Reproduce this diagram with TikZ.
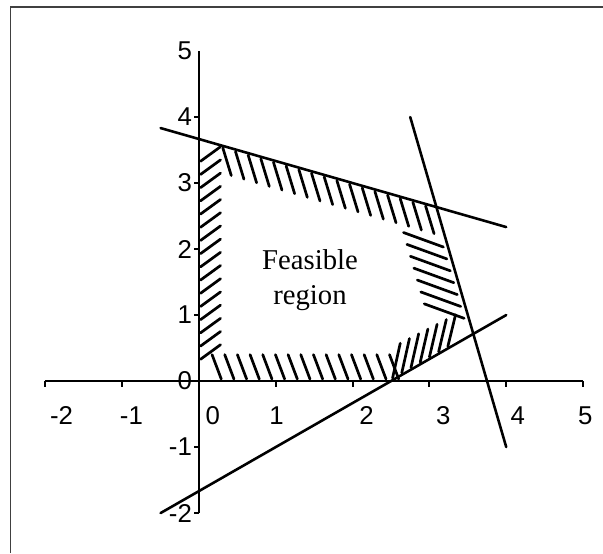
\documentclass[tikz,border=0pt]{standalone}
\usepackage{fontspec}
\setmainfont{Liberation Serif}
\setsansfont{Liberation Sans}
\usetikzlibrary{positioning}

\begin{document}
\begin{tikzpicture}[x=2.304cm, y=1.98cm,
  axisline/.style={line width=1.6pt},
  bound/.style={line width=2.2pt, line cap=round},
  hatch/.style={line width=2.3pt, line cap=round},
  ticklbl/.style={font=\sffamily\fontsize{22}{22}\selectfont, inner sep=0pt},
  regionlbl/.style={font=\fontsize{24.5}{30}\selectfont, align=center}
]
\useasboundingbox (-2.591,-2.606) rectangle (5.260,5.773);

% frame
\draw[line width=1.2pt, black!75] (-2.455,-2.606) -- (-2.455,5.667) -- (5.26,5.667);

% axes
\coordinate (xmin) at (-2,0);
\coordinate (xmax) at (5,0);
\coordinate (ymin) at (0,-2);
\coordinate (ymax) at (0,5);
\draw[axisline] (xmin) -- (xmax);
\draw[axisline] (ymin) -- (ymax);
\foreach \i in {-2,-1,1,2,3,4,5}
  \draw[axisline] (\i,0) -- ++(0,-0.09);
\foreach \j in {-2,-1,1,2,3,4}
  \draw[axisline] (0,\j) -- ++(-0.07,0);

% tick labels
\foreach \t/\p in {-2/-1.79,-1/-0.88,0/0.18,1/1.01,2/2.18,3/3.18,4/4.15,5/5.03}
  \node[ticklbl] (xl\t) at (\p,-0.52) {\t};
\foreach \t in {-2,-1,0,1,2,3,4,5}
  \node[ticklbl, anchor=east] (yl\t) at (-0.09,\t) {\t};

% constraint lines
\coordinate (topA) at (-0.5,3.833);
\coordinate (topB) at (4,2.333);
\coordinate (steepA) at (2.75,4);
\coordinate (steepB) at (4,-1);
\coordinate (lowA) at (-0.5,-2);
\coordinate (lowB) at (4,1);
\draw[bound] (topA) -- (topB);
\draw[bound] (steepA) -- (steepB);
\draw[bound] (lowA) -- (lowB);

% hatching along x = 0
\foreach \y in {0.33,0.53,...,3.4}
  \draw[hatch] (0.02,\y) -- (0.28,\y+0.22);

% hatching along y = 0
\foreach \x in {0.17,0.335,...,2.5}
  \draw[hatch] (\x,0.40) -- (\x+0.12,0.03);

% hatching below the upper line
\foreach \x in {0.31,0.475,...,2.96}
  \draw[hatch] (\x,{11/3-\x/3-0.03}) -- (\x+0.11,{11/3-\x/3-0.45});

% hatching left of the steep line
\foreach \y in {2.03,1.85,1.67,1.49,1.31,1.13,0.95}
  \draw[hatch] ({(15-\y)/4-0.58},\y+0.22) -- ({(15-\y)/4-0.06},\y);

% hatching above the lower line
\foreach \x in {2.62,2.74,2.86,2.98,3.1,3.22,3.34}
  \draw[hatch] (\x-0.1,{(2*(\x-0.1)-5)/3+0.03}) -- (\x,{0.62+0.6*(\x-2.7)});

% label
\node[regionlbl] (feas) at (1.445,1.53) {Feasible\\region};

\end{tikzpicture}
\end{document}
